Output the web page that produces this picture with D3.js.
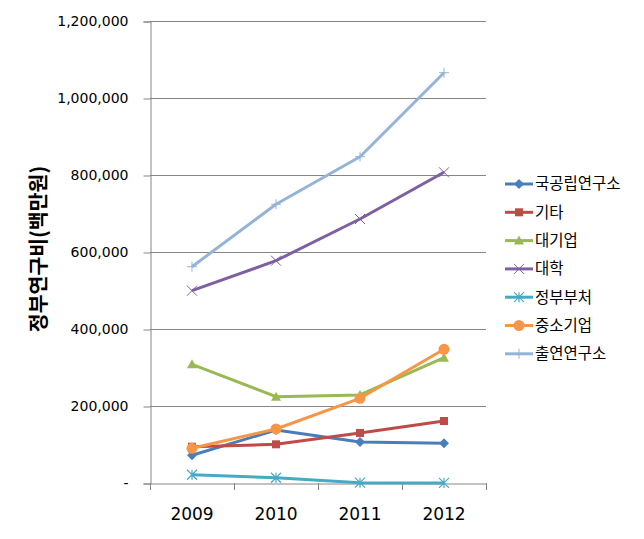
<!DOCTYPE html>
<html>
<head>
<meta charset="utf-8">
<script src="https://cdn.jsdelivr.net/npm/d3@7"></script>
<style>
  body { margin: 0; background: #fff; }
  svg text { font-family: "Noto Sans CJK KR", "Noto Sans", sans-serif; fill: #000; }
</style>
</head>
<body>
<div id="chart"></div>
<script>
const years = ['2009', '2010', '2011', '2012'];
const yTicks = [0, 200000, 400000, 600000, 800000, 1000000, 1200000];
const seriesNames = ['국공립연구소', '기타', '대기업', '대학', '정부부처', '중소기업', '출연연구소'];
const gukgongrip = [72000, 137600, 106500, 103100];
const gita = [94300, 100500, 130000, 161000];
const daegieop = [308300, 224200, 228600, 325500];
const daehak = [499500, 577400, 685700, 807000];
const jeongbu = [21500, 13700, 800, 300];
const jungso = [90100, 140300, 220000, 347300];
const chulyeon = [561800, 724000, 847500, 1065700];
const colors = ['#4A7EBB', '#BE4B48', '#98B954', '#7D60A0', '#46AAC5', '#F79646', '#95B3D7'];
const markers = ['diamond', 'square', 'triangle', 'x', 'star', 'circle', 'plus'];

const allValues = [gukgongrip, gita, daegieop, daehak, jeongbu, jungso, chulyeon];

const w = 644, h = 539;
const m = {left: 150, right: 158, top: 21, bottom: 56};

const svg = d3.select('#chart').append('svg')
    .attr('width', w)
    .attr('height', h);

const x = d3.scaleBand()
    .domain(years)
    .range([m.left, w - m.right]);

const y = d3.scaleLinear()
    .domain([0, 1200000])
    .range([h - m.bottom, m.top]);

const axisColor = '#868686';

// gridlines
svg.append('g')
    .selectAll('line')
    .data(yTicks.slice(1))
    .enter().append('line')
    .attr('x1', m.left).attr('x2', w - m.right)
    .attr('y1', d => Math.round(y(d)) + 0.5)
    .attr('y2', d => Math.round(y(d)) + 0.5)
    .attr('stroke', axisColor)
    .attr('stroke-width', 1);

// y axis
const yAxis = svg.append('g')
    .attr('transform', `translate(${m.left + 0.5},0.5)`)
    .call(d3.axisLeft(y)
        .tickValues(yTicks)
        .tickSize(7)
        .tickPadding(15)
        .tickFormat(d => d === 0 ? '-' : d3.format(',')(d)));
yAxis.select('.domain').attr('stroke', axisColor);
yAxis.selectAll('.tick line').attr('stroke', axisColor);
yAxis.selectAll('.tick text')
    .style('font-size', '14px')
    .style('font-family', '"DejaVu Sans", sans-serif')
    .attr('fill', '#222');

// x axis
const xAxis = svg.append('g')
    .attr('transform', `translate(0,${Math.round(y(0)) + 0.5})`)
    .call(d3.axisBottom(x).tickSize(0).tickPadding(24));
xAxis.select('.domain').attr('stroke', axisColor);
xAxis.selectAll('.tick text')
    .style('font-size', '17px')
    .style('font-family', '"DejaVu Sans", sans-serif')
    .attr('fill', '#000');
// category boundary ticks
svg.append('g')
    .selectAll('line')
    .data(years.concat(['end']))
    .enter().append('line')
    .attr('x1', (d, i) => Math.round(i < years.length ? x(d) : x(years[years.length - 1]) + x.bandwidth()) + 0.5)
    .attr('x2', (d, i) => Math.round(i < years.length ? x(d) : x(years[years.length - 1]) + x.bandwidth()) + 0.5)
    .attr('y1', y(0))
    .attr('y2', y(0) + 7)
    .attr('stroke', axisColor);

// y title
svg.append('text')
    .attr('transform', 'translate(46,249) rotate(-90)')
    .attr('text-anchor', 'middle')
    .style('font-size', '20.5px')
    .style('font-weight', 'bold')
    .text('정부연구비(백만원)');

function drawMarker(g, type, color, size) {
    const s = size;
    if (type === 'diamond') {
        g.append('path').attr('d', `M0,${-s}L${s},0L0,${s}L${-s},0Z`).attr('fill', color);
    } else if (type === 'square') {
        g.append('rect').attr('x', -s + 1).attr('y', -s + 1).attr('width', 2 * s - 2).attr('height', 2 * s - 2).attr('fill', color);
    } else if (type === 'triangle') {
        g.append('path').attr('d', `M0,${-s}L${s},${s - 1}L${-s},${s - 1}Z`).attr('fill', color);
    } else if (type === 'circle') {
        g.append('circle').attr('r', s).attr('fill', color);
    } else if (type === 'x') {
        g.append('path').attr('d', `M${-s},${-s}L${s},${s}M${-s},${s}L${s},${-s}`).attr('stroke', color).attr('stroke-width', 1).attr('fill', 'none');
    } else if (type === 'star') {
        g.append('path').attr('d', `M${-s},${-s}L${s},${s}M${-s},${s}L${s},${-s}M0,${-s}L0,${s}`).attr('stroke', color).attr('stroke-width', 1.2).attr('fill', 'none');
    } else if (type === 'plus') {
        g.append('path').attr('d', `M${-s},0L${s},0M0,${-s}L0,${s}`).attr('stroke', color).attr('stroke-width', 1).attr('fill', 'none');
    }
}

const line = d3.line()
    .x((d, i) => x(years[i]) + x.bandwidth() / 2)
    .y(d => y(d));

const plot = svg.append('g');
allValues.forEach((vals, k) => {
    plot.append('path')
        .datum(vals)
        .attr('d', line)
        .attr('fill', 'none')
        .attr('stroke', colors[k])
        .attr('stroke-width', 3)
        .attr('stroke-linejoin', 'round');
});
allValues.forEach((vals, k) => {
    vals.forEach((v, i) => {
        const g = plot.append('g')
            .attr('transform', `translate(${x(years[i]) + x.bandwidth() / 2},${y(v)})`);
        drawMarker(g, markers[k], colors[k], markers[k] === 'circle' ? 5.5 : 5);
    });
});

// legend
const legend = svg.append('g').attr('transform', 'translate(505,184)');
seriesNames.forEach((name, k) => {
    const g = legend.append('g').attr('transform', `translate(0,${k * 28.3})`);
    g.append('line').attr('x1', 0).attr('x2', 28).attr('y1', 0).attr('y2', 0)
        .attr('stroke', colors[k]).attr('stroke-width', 3);
    const mg = g.append('g').attr('transform', 'translate(14,0)');
    drawMarker(mg, markers[k], colors[k], markers[k] === 'circle' ? 5.5 : 5);
    g.append('text')
        .attr('x', 30)
        .attr('y', 0)
        .attr('dy', '0.35em')
        .style('font-size', '15.5px')
        .text(name);
});
</script>
</body>
</html>
